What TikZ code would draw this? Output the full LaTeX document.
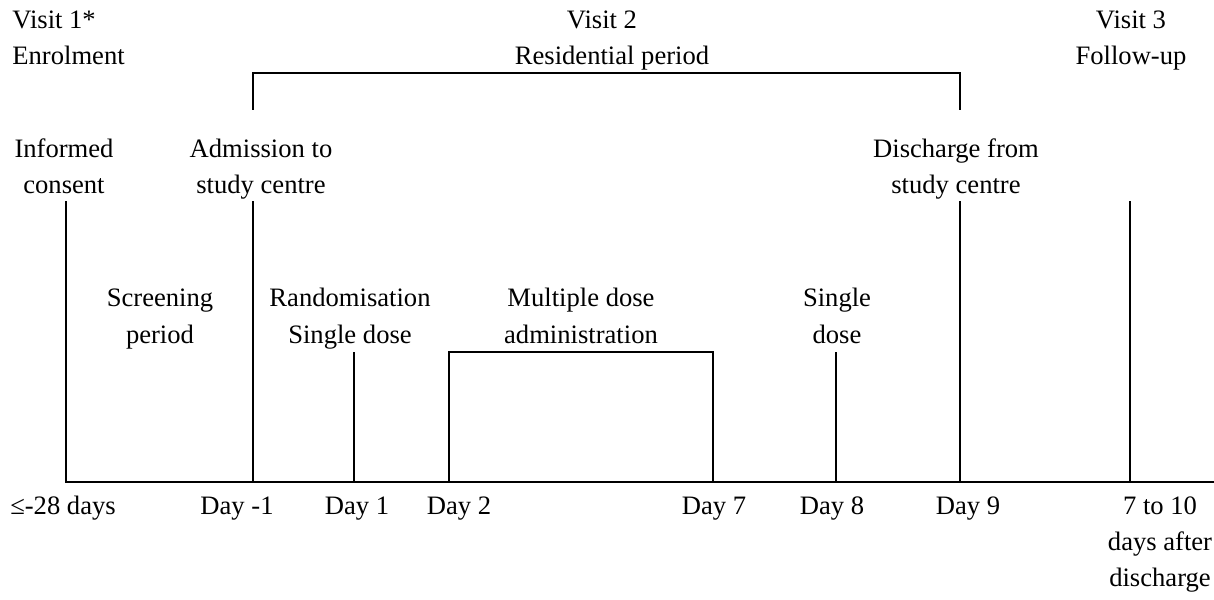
\documentclass[tikz,border=0pt]{standalone}
\usepackage{fontspec}
\setmainfont{Liberation Serif}
\begin{document}
\begin{tikzpicture}[x=0.5pt,y=-0.5pt,
  lbl/.style={inner sep=0pt, anchor=base, font=\fontsize{13.3}{15}\selectfont},
  rule/.style={line width=1.2pt, line join=miter}]
\useasboundingbox (0,0) rectangle (1214,599);
% header texts
\node[lbl, anchor=base west] (v1a) at (12,29) {Visit 1*};
\node[lbl, anchor=base west] (v1b) at (12,65) {Enrolment};
\node[lbl] (v2a) at (602,29) {Visit 2};
\node[lbl] (v2b) at (612,65) {Residential period};
\node[lbl] (v3a) at (1131,29) {Visit 3};
\node[lbl] (v3b) at (1131,65) {Follow-up};
% event texts
\node[lbl] (ic1) at (64,157) {Informed};
\node[lbl] (ic2) at (64,193) {consent};
\node[lbl] (ad1) at (261,157) {Admission to};
\node[lbl] (ad2) at (261,193) {study centre};
\node[lbl] (dc1) at (956,157) {Discharge from};
\node[lbl] (dc2) at (956,193) {study centre};
\node[lbl] (sc1) at (160,306) {Screening};
\node[lbl] (sc2) at (160,343) {period};
\node[lbl] (rd1) at (350,306) {Randomisation};
\node[lbl] (rd2) at (350,343) {Single dose};
\node[lbl] (md1) at (581,306) {Multiple dose};
\node[lbl] (md2) at (581,343) {administration};
\node[lbl] (sd1) at (837,306) {Single};
\node[lbl] (sd2) at (837,343) {dose};
% axis labels
\node[lbl] (d0) at (63,514) {≤-28 days};
\node[lbl] (dm1) at (237,514) {Day -1};
\node[lbl] (d1) at (357,514) {Day 1};
\node[lbl] (d2) at (459,514) {Day 2};
\node[lbl] (d7) at (714,514) {Day 7};
\node[lbl] (d8) at (832,514) {Day 8};
\node[lbl] (d9) at (968,514) {Day 9};
\node[lbl] (f1) at (1160,514) {7 to 10};
\node[lbl] (f2) at (1160,550) {days after};
\node[lbl] (f3) at (1160,586) {discharge};
% coordinates
\coordinate (axL) at (66,482);
\coordinate (axR) at (1214,482);
\coordinate (icT) at (66,201);
\coordinate (adT) at (253,201);
\coordinate (adB) at (253,482);
\coordinate (d1T) at (354,352);
\coordinate (d1B) at (354,482);
\coordinate (mdA) at (449,482);
\coordinate (mdB) at (449,352);
\coordinate (mdC) at (713,352);
\coordinate (mdD) at (713,482);
\coordinate (d8T) at (836,352);
\coordinate (d8B) at (836,482);
\coordinate (d9T) at (960,201);
\coordinate (d9B) at (960,482);
\coordinate (fuT) at (1130,201);
\coordinate (fuB) at (1130,482);
\coordinate (brA) at (253,110);
\coordinate (brB) at (253,73);
\coordinate (brC) at (960,73);
\coordinate (brD) at (960,110);
% lines
\draw[rule] (icT) -- (axL) -- (axR);
\draw[rule] (adT) -- (adB);
\draw[rule] (d1T) -- (d1B);
\draw[rule] (mdA) -- (mdB) -- (mdC) -- (mdD);
\draw[rule] (d8T) -- (d8B);
\draw[rule] (d9T) -- (d9B);
\draw[rule] (fuT) -- (fuB);
\draw[rule] (brA) -- (brB) -- (brC) -- (brD);
\end{tikzpicture}
\end{document}
